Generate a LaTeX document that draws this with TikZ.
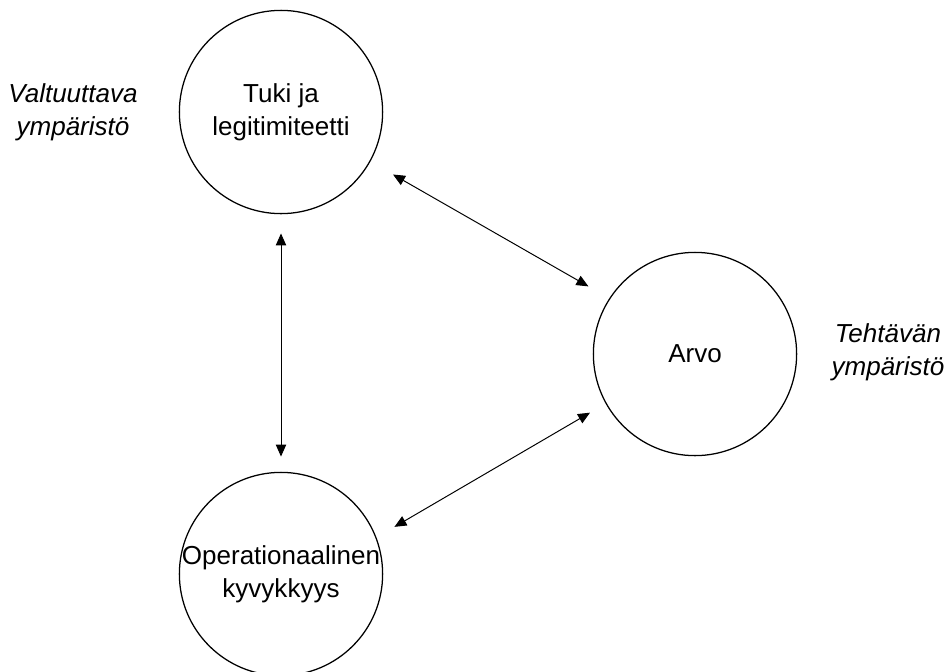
\documentclass[tikz,border=0pt]{standalone}
\usepackage{fontspec}
\setmainfont{Liberation Sans}
\usetikzlibrary{arrows.meta}

\tikzset{
  ring/.style={circle, draw, line width=0.9pt, minimum size=5.08cm, inner sep=0pt},
  link/.style={{Triangle[length=0.3cm,width=0.26cm]}-{Triangle[length=0.3cm,width=0.26cm]}, line width=0.7pt},
  side/.style={align=center, font=\fontsize{18.5}{23.5}\selectfont\itshape}
}

\begin{document}
\begin{tikzpicture}[x=0.025cm, y=-0.025cm, font=\fontsize{18.5}{23.5}\selectfont]
\useasboundingbox (0,0) rectangle (949,672);
% the three circles
\node[ring, label={[align=center]center:Tuki ja\\legitimiteetti}] (tuki) at (281,112) {};
\node[ring, label={[align=center]center:Arvo}] (arvo) at (695,354) {};
\node[ring, label={[align=center]center:Operationaalinen\\kyvykkyys}] (ops) at (281,574) {};
% environments
\node[side] (valt) at (73,112) {Valtuuttava\\ympäristö};
\node[side] (teht) at (888,352) {Tehtävän\\ympäristö};
% arrows
\draw[link, shorten <=0.65cm, shorten >=0.6cm] (tuki.331) -- (arvo.147);
\draw[link, shorten <=0.48cm, shorten >=0.38cm] (tuki.south) -- (ops.north);
\draw[link, shorten <=0.52cm, shorten >=0.45cm] (ops.21) -- (arvo.209);
\end{tikzpicture}
\end{document}
